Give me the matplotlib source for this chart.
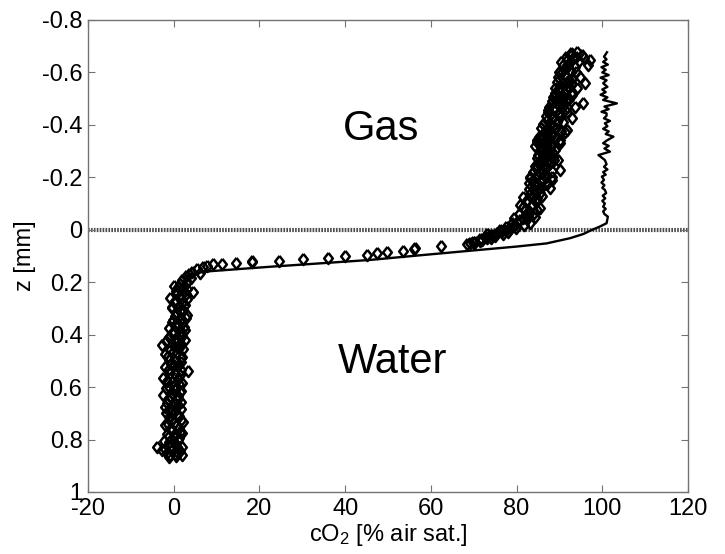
import matplotlib.pyplot as plt

plt.rcParams['font.family'] = ['Liberation Sans', 'DejaVu Sans']
plt.rcParams['mathtext.default'] = 'regular'

# measured cO2 profile (diamonds), (cO2 [% air sat.], z [mm])
water_pts = [(18.2, 0.123), (14.5, 0.128), (11.2, 0.132), (9.2, 0.132), (7.8, 0.138),
             (6.9, 0.141), (5.5, 0.150), (6.1, 0.166), (4.2, 0.160), (3.5, 0.170),
             (2.8, 0.178), (4.0, 0.185), (2.0, 0.19), (3.2, 0.20), (1.5, 0.205),
             (2.5, 0.215), (1.0, 0.22), (4.6, 0.236), (2.2, 0.23), (0.8, 0.24),
             (1.8, 0.25), (-0.9, 0.261), (0.5, 0.27), (2.0, 0.28), (1.2, 0.29),
             (-0.3, 0.30), (1.5, 0.31), (3.0, 0.325), (0.2, 0.33), (1.8, 0.34),
             (-0.5, 0.35), (1.0, 0.36), (2.4, 0.37), (2.6, 0.382), (0.0, 0.39),
             (1.4, 0.40), (-1.0, 0.41), (2.6, 0.42), (0.6, 0.43), (-2.8, 0.44),
             (1.2, 0.45), (-0.8, 0.46), (0.8, 0.47), (-1.4, 0.48), (1.6, 0.49),
             (0.2, 0.50), (-0.6, 0.51), (1.0, 0.52), (-1.2, 0.53), (3.4, 0.54),
             (0.4, 0.55), (-2.4, 0.566), (0.9, 0.57), (-0.4, 0.58), (1.3, 0.59),
             (-1.0, 0.60), (0.2, 0.61), (1.5, 0.62), (-2.4, 0.63), (-0.6, 0.64),
             (0.7, 0.65), (-1.6, 0.66), (1.0, 0.67), (-0.9, 0.68), (0.3, 0.69),
             (-1.8, 0.70), (1.2, 0.71), (-0.5, 0.72), (2.2, 0.732), (-1.3, 0.74),
             (0.5, 0.75), (-0.8, 0.76), (1.4, 0.77), (-1.5, 0.78), (0.0, 0.79),
             (1.0, 0.80), (-1.0, 0.81), (-4.0, 0.827), (0.8, 0.83), (-2.0, 0.835),
             (-0.3, 0.84), (1.5, 0.845), (-1.6, 0.852), (0.3, 0.855), (-0.8, 0.86),
             (0.6, 0.862), (0.0, 0.215), (3.0, 0.225), (0.5, 0.235), (2.8, 0.245),
             (1.2, 0.255), (3.2, 0.265), (0.0, 0.275), (2.6, 0.285), (-0.5, 0.295),
             (2.2, 0.305), (0.6, 0.315), (2.8, 0.335), (-0.2, 0.345), (2.0, 0.355),
             (0.4, 0.365), (-1.2, 0.375), (1.8, 0.385), (-0.4, 0.395), (2.0, 0.405),
             (0.2, 0.415), (-1.8, 0.425), (1.8, 0.435), (0.0, 0.445), (2.2, 0.455),
             (-0.2, 0.465), (-2.0, 0.475), (2.0, 0.485), (-1.0, 0.495), (1.6, 0.505),
             (0.0, 0.515), (-2.0, 0.525), (1.8, 0.535), (-0.8, 0.545), (1.5, 0.555),
             (-1.6, 0.575), (2.0, 0.585), (0.0, 0.595), (-1.8, 0.605), (1.8, 0.615),
             (-0.2, 0.625), (1.0, 0.635), (-1.4, 0.645), (1.8, 0.655), (0.2, 0.665),
             (-2.0, 0.675), (1.6, 0.685), (-0.6, 0.695), (0.8, 0.705), (-1.2, 0.715),
             (1.6, 0.725), (0.0, 0.735), (-2.0, 0.745), (1.2, 0.755), (-0.3, 0.765),
             (2.0, 0.775), (-1.0, 0.785), (1.2, 0.795), (-2.2, 0.805), (0.4, 0.815),
             (-0.6, 0.825), (2.0, 0.83), (-2.8, 0.84), (1.0, 0.85), (-1.2, 0.865),
             (2.0, 0.86)]

surface_pts = [(18.2, 0.119), (24.6, 0.118), (30.1, 0.113), (35.9, 0.106), (39.9, 0.100),
               (45.0, 0.096), (47.4, 0.090), (49.8, 0.086), (53.4, 0.081), (56.1, 0.073),
               (56.3, 0.068), (62.3, 0.061), (68.5, 0.054), (69.1, 0.052), (69.9, 0.048),
               (70.3, 0.045), (71.5, 0.043), (71.5, 0.036), (72.6, 0.029), (73.0, 0.032),
               (73.8, 0.020), (74.6, 0.020), (75.4, 0.011), (76.1, 0.001), (70.0, 0.05),
               (72.0, 0.04), (74.0, 0.03), (75.0, 0.022), (76.8, 0.015), (73.0, 0.015),
               (77.5, 0.0), (76.5, 0.005), (78.0, 0.008)]

gas_pts = [(78.5, -0.006), (78.9, -0.025), (80.8, -0.037), (83.1, -0.025), (82.3, -0.056),
           (84.3, -0.050), (84.7, -0.076), (82.3, -0.107), (83.9, -0.126), (85.5, -0.082),
           (83.1, -0.196), (84.7, -0.177), (86.2, -0.190), (87.8, -0.158), (88.2, -0.190),
           (90.1, -0.228), (85.8, -0.228), (85.5, -0.266), (87.0, -0.260), (88.6, -0.279),
           (86.2, -0.304), (84.7, -0.336), (85.8, -0.342), (87.4, -0.349), (90.1, -0.330),
           (91.3, -0.374), (87.8, -0.381), (87.0, -0.419), (88.6, -0.425), (87.4, -0.450),
           (90.1, -0.431), (89.4, -0.482), (90.9, -0.502), (89.0, -0.514), (93.6, -0.469),
           (91.7, -0.450), (92.9, -0.527), (90.1, -0.546), (94.0, -0.540), (96.0, -0.559),
           (94.0, -0.679), (95.2, -0.667), (97.1, -0.648), (96.7, -0.629), (91.7, -0.648),
           (90.9, -0.629), (90.5, -0.603), (92.5, -0.609), (94.8, -0.584), (89.7, -0.584),
           (91.7, -0.565), (89.0, -0.521), (92.9, -0.514), (90.5, -0.495), (95.6, -0.482),
           (87.4, -0.457), (91.7, -0.469), (88.6, -0.431), (92.9, -0.425), (91.7, -0.381),
           (87.0, -0.387), (84.7, -0.342), (86.7, -0.342), (90.1, -0.342), (85.5, -0.304),
           (88.6, -0.292), (86.2, -0.266), (89.7, -0.266), (83.1, -0.203), (85.5, -0.215),
           (88.2, -0.203), (77.5, -0.01), (79.5, -0.015), (80.0, -0.03), (81.5, -0.045),
           (80.5, -0.06), (83.0, -0.07), (81.5, -0.085), (83.5, -0.095), (82.5, -0.115),
           (84.8, -0.12), (83.2, -0.135), (85.5, -0.14), (84.0, -0.15), (86.0, -0.165),
           (84.2, -0.17), (85.5, -0.185), (83.8, -0.19), (86.8, -0.2), (84.8, -0.21),
           (86.2, -0.22), (84.5, -0.235), (87.2, -0.24), (85.2, -0.25), (87.8, -0.255),
           (86.5, -0.275), (85.0, -0.285), (87.5, -0.3), (86.0, -0.315), (88.0, -0.32),
           (86.8, -0.33), (85.2, -0.355), (88.2, -0.36), (86.5, -0.37), (89.2, -0.39),
           (87.8, -0.4), (86.2, -0.405), (89.5, -0.41), (88.0, -0.44), (90.2, -0.445),
           (88.6, -0.46), (89.8, -0.475), (88.2, -0.49), (91.5, -0.49), (89.5, -0.5),
           (91.0, -0.52), (90.0, -0.53), (92.0, -0.55), (90.8, -0.56), (93.0, -0.575),
           (91.2, -0.59), (92.8, -0.6), (91.0, -0.615), (93.6, -0.62), (92.2, -0.635),
           (93.2, -0.655), (92.5, -0.665), (93.8, -0.66), (92.8, -0.675),
           (79.8, -0.005), (81.8, -0.02), (82.5, -0.04), (79.5, -0.045), (84.0, -0.065),
           (82.0, -0.075), (80.8, -0.095), (84.5, -0.105), (81.5, -0.125), (86.0, -0.13),
           (82.8, -0.155), (85.2, -0.16), (87.0, -0.175), (82.8, -0.18), (86.5, -0.21),
           (83.8, -0.22), (88.2, -0.225), (84.2, -0.245), (86.4, -0.245), (88.8, -0.265),
           (84.8, -0.275), (87.6, -0.285), (86.2, -0.29), (89.0, -0.305), (84.2, -0.32),
           (87.2, -0.325), (89.2, -0.35), (86.0, -0.36), (87.2, -0.365), (90.4, -0.375),
           (85.8, -0.39), (88.6, -0.395), (90.8, -0.41), (86.8, -0.435), (89.6, -0.44),
           (91.2, -0.455), (87.6, -0.47), (90.4, -0.485), (92.2, -0.5), (88.4, -0.505),
           (91.6, -0.535), (89.0, -0.54), (93.0, -0.555), (89.4, -0.565), (92.2, -0.57),
           (90.0, -0.6), (93.8, -0.6), (92.0, -0.625), (90.4, -0.64), (94.6, -0.645),
           (91.6, -0.66), (93.0, -0.67), (95.8, -0.655)]

# second profile (solid line)
line_co2 = [3.0, 6.0, 8.5, 15.0, 22.5, 34.2, 45.8, 57.0, 69.1, 80.0, 87.0, 92.5, 95.6,
            97.5, 99.4, 101.0, 101.3, 100.5, 100.2, 100.8, 100.2, 100.6, 100.0, 100.7,
            100.1, 100.9, 100.6, 100.0, 100.5, 99.8, 100.4, 99.9, 100.8, 100.2, 101.2,
            100.4, 101.0, 100.6, 99.1, 101.8, 100.5, 101.5, 100.2, 101.0, 102.6, 100.8,
            101.5, 100.2, 101.2, 100.6, 101.8, 100.4, 101.0, 101.0, 99.8, 101.5, 100.5,
            103.4, 100.2, 101.2, 99.6, 100.8, 100.0, 101.2, 100.2, 101.0, 99.6, 101.5,
            100.0, 100.8, 99.8, 101.3, 100.2, 101.0, 100.4, 101.1]
line_z = [0.175, 0.163, 0.158, 0.150, 0.141, 0.128, 0.115, 0.098, 0.080, 0.064, 0.052,
          0.032, 0.016, 0.001, -0.012, -0.025, -0.050, -0.06, -0.07, -0.08, -0.088,
          -0.10, -0.11, -0.12, -0.13, -0.14, -0.152, -0.16, -0.17, -0.18, -0.19, -0.203,
          -0.21, -0.22, -0.23, -0.24, -0.25, -0.266, -0.285, -0.298, -0.31, -0.32, -0.33,
          -0.34, -0.355, -0.365, -0.375, -0.385, -0.395, -0.406, -0.415, -0.425, -0.435,
          -0.444, -0.45, -0.46, -0.47, -0.482, -0.495, -0.505, -0.515, -0.525, -0.535,
          -0.545, -0.559, -0.57, -0.58, -0.59, -0.60, -0.61, -0.62, -0.63, -0.64, -0.65,
          -0.66, -0.677]

xticks = [-20, 0, 20, 40, 60, 80, 100, 120]
yticks = [-0.8, -0.6, -0.4, -0.2, 0, 0.2, 0.4, 0.6, 0.8, 1]
ytick_labels = ['-0.8', '-0.6', '-0.4', '-0.2', '0', '0.2', '0.4', '0.6', '0.8', '1']

fig = plt.figure(figsize=(7.25, 5.54), dpi=100)
ax = fig.add_axes([88 / 725, 1 - 492 / 554, 600 / 725, 472 / 554])

ax.axhline(0, color='0.3', lw=3.0, linestyle=(0, (0.4, 0.3)), zorder=1)
ax.plot(line_co2, line_z, color='black', lw=1.7, zorder=2)

# MATLAB-like diamond, a bit taller than wide
diamond = [(0, 1), (0.78, 0), (0, -1), (-0.78, 0), (0, 1)]
pts = water_pts + surface_pts + gas_pts
ax.plot([p[0] for p in pts], [p[1] for p in pts], linestyle='none', marker=diamond,
        markersize=8, mfc='none', mec='black', mew=1.8, zorder=3)

ax.text(48.4, -0.384, 'Gas', fontsize=30, ha='center', va='center')
ax.text(51.0, 0.505, 'Water', fontsize=30, ha='center', va='center')

ax.set_xlim(-20, 120)
ax.set_ylim(1, -0.8)
ax.set_xticks(xticks)
ax.set_xticklabels([str(t) for t in xticks])
ax.set_yticks(yticks)
ax.set_yticklabels(ytick_labels)
ax.tick_params(direction='in', length=5, color='0.45', labelsize=17, top=True, right=True, pad=4)
for s in ax.spines.values():
    s.set_color('0.45')
    s.set_linewidth(1.0)

ax.set_xlabel('cO$_2$ [% air sat.]', fontsize=17, labelpad=2)
ax.set_ylabel('z [mm]', fontsize=17, labelpad=4)

fig.savefig('out.png', dpi=100)
